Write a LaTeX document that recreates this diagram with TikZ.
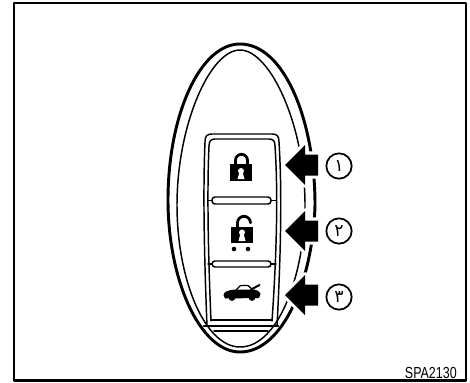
\documentclass[tikz,border=0pt]{standalone}
\usepackage{fontspec}
\newfontfamily\arabicfont[Script=Arabic]{DejaVu Sans}
\newfontfamily\codefont[FakeStretch=0.78]{Liberation Sans}
\tikzset{
  fob sketch/.style={
    x=0.75pt,
    y=-0.75pt,
    line cap=round,
    line join=round
  },
  fob outer/.style={
    line width=2.2pt
  },
  fob thin/.style={
    line width=1.1pt
  },
  fob arrow/.style={
    fill=black,
    preaction={draw=white,line width=4.6pt}
  },
  fob mark/.style={
    draw,
    circle,
    line width=1.3pt,
    minimum size=19pt,
    inner sep=0pt,
    font=\arabicfont\fontsize{13pt}{13pt}\selectfont
  },
  fob code/.style={
    font=\codefont\fontsize{12pt}{12pt}\selectfont,
    inner sep=0pt,
    anchor=base east
  }
}
\begin{document}
\begin{tikzpicture}[fob sketch]
  \useasboundingbox (0,0) rectangle (470,382);
  \draw[line width=1.9pt] (14,3) rectangle (466,380.6);
  \draw[fob outer] (240,44) .. controls (284,44) and (315,120) .. (315,205)
                      .. controls (313,280) and (283,352) .. (240,352)
                      .. controls (200,352) and (168,280) .. (168,200)
                      .. controls (168,115) and (200,44) .. (240,44);
  \draw[fob thin] (240,50) .. controls (270,50) and (305,125) .. (305,205)
                     .. controls (305,270) and (280,347) .. (240,347)
                     .. controls (205,347) and (177,280) .. (177,205)
                     .. controls (177,125) and (210,50) .. (240,50);
  \draw[fob thin] (207,326) .. controls (204,250) and (203,190) .. (205,142)
                     .. controls (205,136) and (207,134) .. (212,134) -- (272,134)
                     .. controls (277,134) and (279,136) .. (279,142)
                     .. controls (282,190) and (281,250) .. (277,326);
  \draw[fob thin] (211,321) .. controls (208,250) and (207,190) .. (209,146)
                     .. controls (209,141) and (211,139) .. (215,139) -- (269,139)
                     .. controls (273,139) and (275,141) .. (275,146)
                     .. controls (278,190) and (277,250) .. (272,321);
  \draw[fob thin,rounded corners=2.2pt] (212,197) rectangle (271,204);
  \draw[fob thin,rounded corners=2.2pt] (212,261) rectangle (271,267);
  \draw[fob thin] (208,200.5) -- (212,200.5) (271,200.5) -- (276,200.5);
  \draw[fob thin] (208,264) -- (212,264) (271,264) -- (276,264);
  \draw[fob outer] (204,326) -- (278,326);
  \draw[fob thin] (211,320) -- (272,320);
  \draw[fob thin] (214,331) -- (268,331);

  \fill (230,164) rectangle (252,181);
  \draw[line width=2.1pt] (235.5,164) -- (235.5,160.3) arc (180:360:6) -- (247.5,164);
  \fill[white] (241,171) circle (3);
  \fill[white] (239.5,172) -- (242.5,172) -- (244.5,179) -- (237.5,179) -- cycle;

  \fill (231,227) rectangle (253,243);
  \draw[line width=2.1pt] (237.5,227) -- (237.5,222.8) arc (180:360:6.5);
  \fill[white] (242,232.5) circle (3);
  \fill[white] (240.5,233.5) -- (243.5,233.5) -- (245.5,241) -- (238.5,241) -- cycle;
  \fill (234,249) circle (2.3);
  \fill (248,249) circle (2.3);

  \fill (223.5,295) .. controls (224,291.5) and (228,290) .. (236,289.5) -- (254,289.5)
           .. controls (258,290.5) and (260.5,292) .. (260.5,294) -- (259,298) -- (225,298.5) -- cycle;
  \draw[line width=1pt] (236,290) -- (240.5,285.5) -- (248,285.5) -- (253,290);
  \draw[line width=1.5pt] (251,289.5) -- (259.5,285);
  \fill (232,297.5) circle (3.4);
  \fill (252,297.5) circle (3.4);

  \foreach \ypos/\ylab/\digit/\n in {165/166/١/1,231/231/٢/2,295/297/٣/3} {
    \draw[fob arrow,draw=none] (285,\ypos) -- (305,\ypos-20) -- (305,\ypos-10.5)
      -- (318,\ypos-10.5) -- (318,\ypos+10.5) -- (305,\ypos+10.5)
      -- (305,\ypos+20) -- cycle;
    \node[fob mark] (mark\n) at (339,\ylab) {\digit};
  }
  \node[fob code] (code) at (457,378) {SPA2130};
\end{tikzpicture}
\end{document}
